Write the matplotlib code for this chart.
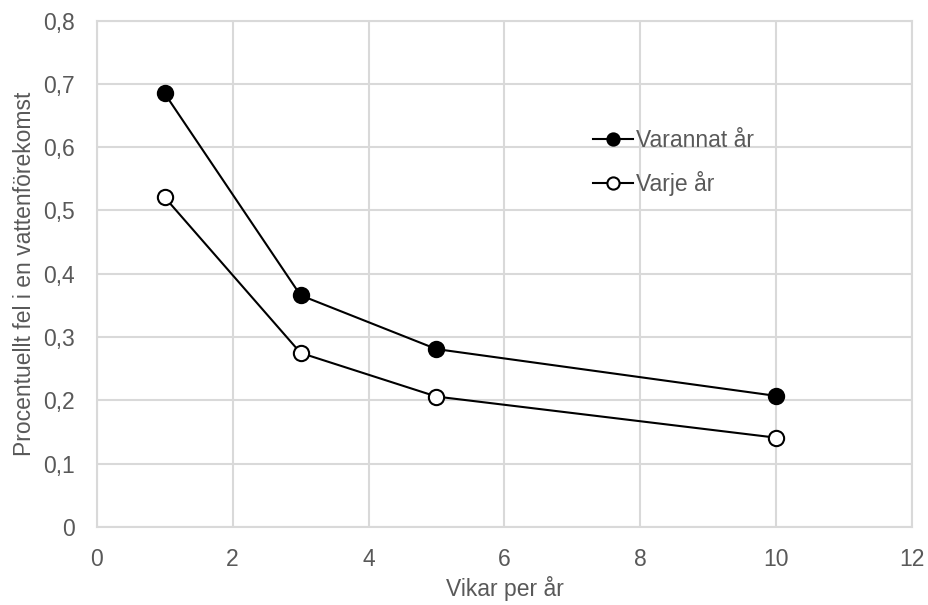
import matplotlib.pyplot as plt
from matplotlib.ticker import FuncFormatter

plt.rcParams['font.family'] = ['Liberation Sans', 'DejaVu Sans']

# vikar per år
vikar = [1, 3, 5, 10]
varannat_ar = [0.685, 0.366, 0.281, 0.207]
varje_ar = [0.521, 0.275, 0.206, 0.141]

x_ticks = [0, 2, 4, 6, 8, 10, 12]
y_ticks = [0, 0.1, 0.2, 0.3, 0.4, 0.5, 0.6, 0.7, 0.8]

grey = '#595959'
grid_c = '#d9d9d9'
fs = 16.5

fig = plt.figure(figsize=(9.29, 6.05), dpi=100)
ax = fig.add_axes([0.104, 0.129, 0.878, 0.837])

ax.plot(vikar, varannat_ar, color='black', lw=1.5, marker='o', ms=11,
        mfc='black', mec='black', mew=1.5, label='Varannat år', zorder=3)
ax.plot(vikar, varje_ar, color='black', lw=1.5, marker='o', ms=11,
        mfc='white', mec='black', mew=1.5, label='Varje år', zorder=3)

ax.set_xlim(0, 12)
ax.set_ylim(0, 0.8)
ax.set_xticks(x_ticks)
ax.set_yticks(y_ticks)
ax.yaxis.set_major_formatter(FuncFormatter(lambda v, p: ('%g' % round(v, 1)).replace('.', ',')))
ax.tick_params(length=0, labelsize=fs, labelcolor=grey, pad=16)
ax.tick_params(axis='x', pad=15)
ax.grid(True, color=grid_c, lw=1.5)
ax.set_axisbelow(True)
for s in ax.spines.values():
    s.set_color(grid_c)
    s.set_linewidth(1.5)

ax.set_xlabel('Vikar per år', fontsize=fs, color=grey, labelpad=4)
ax.set_ylabel('Procentuellt fel i en vattenförekomst', fontsize=fs, color=grey, labelpad=5)

ax.legend(loc='upper left', bbox_to_anchor=(0.608, 0.786), frameon=False,
          fontsize=fs, labelcolor=grey, handlelength=1.75, handletextpad=0.15,
          labelspacing=0.82, borderaxespad=0, borderpad=0, markerscale=0.8)

fig.savefig('out.png', dpi=100)
